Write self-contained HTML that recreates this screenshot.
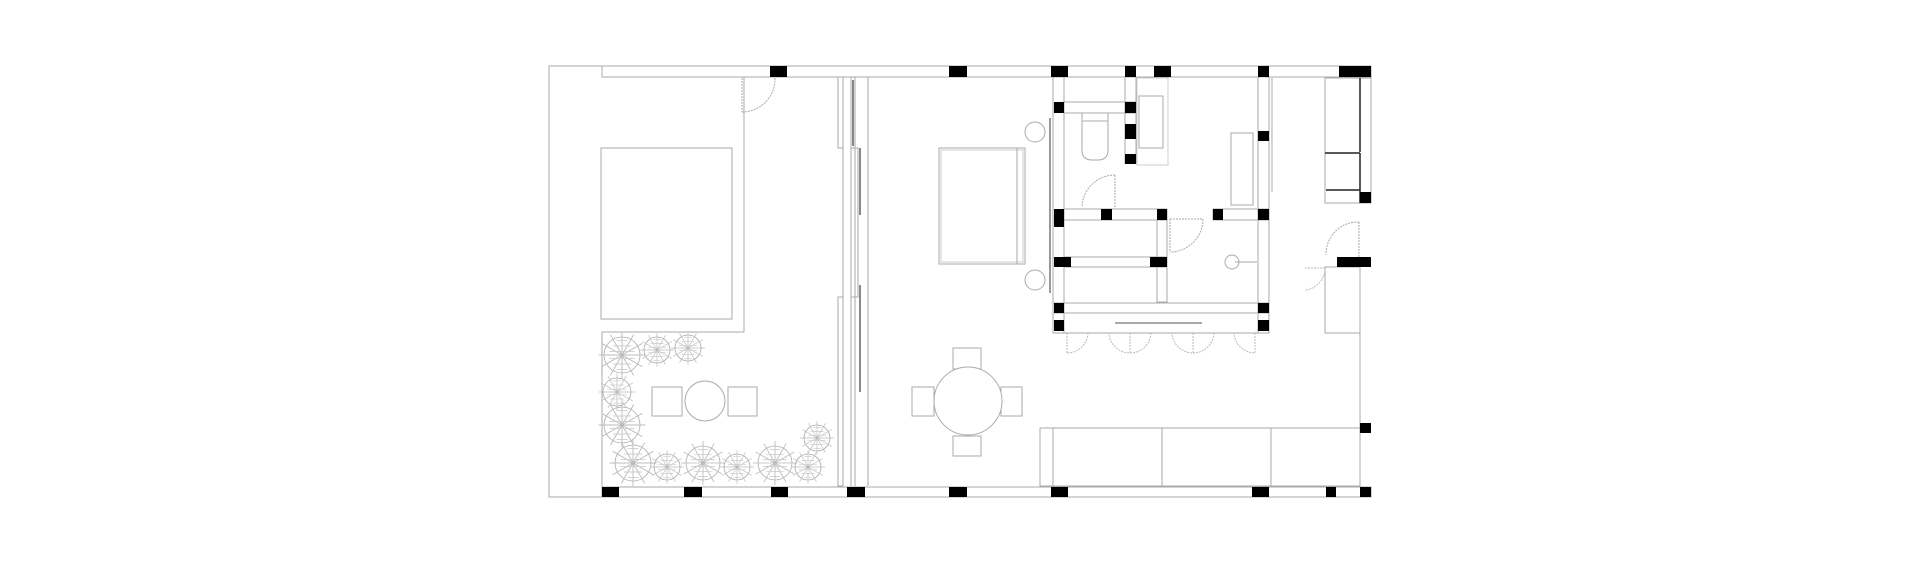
<!DOCTYPE html>
<html><head><meta charset="utf-8"><style>
html,body{margin:0;padding:0;background:#fff}
svg{display:block}
</style></head><body>
<svg width="1920" height="563" viewBox="0 0 1920 563" xmlns="http://www.w3.org/2000/svg">
<defs>
<g id="tree">
<circle cx="0" cy="0" r="10" fill="none" stroke="#aaa" stroke-width="0.8" vector-effect="non-scaling-stroke"/>
<g stroke="#bbb" stroke-width="0.5" vector-effect="non-scaling-stroke">
<path d="M0 0L0 -13M0 0L6.5 -11.3M0 0L11.3 -6.5M0 0L13 0M0 0L11.3 6.5M0 0L6.5 11.3M0 0L0 13M0 0L-6.5 11.3M0 0L-11.3 6.5M0 0L-13 0M0 0L-11.3 -6.5M0 0L-6.5 -11.3"/>
<path d="M-3 -8L3 -8M-5 -5L5 -5M-7 -2L7 -2M-7 2L7 2M-5 5L5 5M-3 8L3 8" stroke="#ccc"/>
</g>
</g>
</defs>
<g fill="none" stroke="#aaa" stroke-width="1">
<path d="M602 66H549V497H602"/>
<rect x="602" y="66" width="769" height="11" />
<rect x="602" y="487" width="769" height="10" />
<path d="M744 77V332H602V487"/>
<rect x="601" y="148" width="131" height="171"/>
<path d="M742 78V112M742 112A33 33 0 0 0 775 78" stroke-dasharray="2 1"/>
<path d="M838 77V148H843V297H838V486H843"/>
<path d="M843 77V486"/>
<path d="M851 77V486M855 77V486M868 77V486"/>
<path d="M851 148H858V297H851" />
<path d="M860 148V215M860 285V392" stroke="#888" stroke-width="2"/>
<path d="M853 80V146" stroke="#888" stroke-width="2"/>
<rect x="652" y="387" width="30" height="29"/>
<circle cx="705" cy="401" r="20"/>
<rect x="728" y="387" width="29" height="29"/>
<rect x="939" y="148" width="86" height="116"/>
<rect x="941" y="150" width="82" height="112" stroke="#ccc"/>
<path d="M1017 148V264"/>
<circle cx="1035" cy="132" r="10"/>
<circle cx="1035" cy="280" r="10"/>
<path d="M1050 118V293" stroke="#999" stroke-width="2"/>
<rect x="953" y="348" width="28" height="21"/>
<rect x="953" y="436" width="28" height="20"/>
<rect x="912" y="387" width="22" height="29"/>
<rect x="1001" y="387" width="21" height="29"/>
<circle cx="968" cy="401" r="34" fill="#fff"/>
<rect x="1053" y="77" width="11" height="256"/>
<rect x="1258" y="77" width="11" height="256"/>
<rect x="1064" y="102" width="72" height="11"/>
<rect x="1125" y="77" width="11" height="86"/>
<rect x="1137" y="78" width="31" height="87" stroke="#ccc"/>
<rect x="1139" y="96" width="24" height="52"/>
<path d="M1082 113H1108V150Q1108 160 1098 160H1092Q1082 160 1082 150Z"/>
<path d="M1082 121H1108"/>
<rect x="1064" y="209" width="103" height="11"/>
<rect x="1064" y="257" width="103" height="10"/>
<rect x="1157" y="220" width="10" height="82"/>
<rect x="1213" y="209" width="56" height="11"/>
<rect x="1053" y="303" width="216" height="10"/>
<rect x="1064" y="313" width="194" height="20"/>
<path d="M1115 323H1202" stroke-width="2"/>
<rect x="1231" y="133" width="22" height="72"/>
<circle cx="1232" cy="262" r="7"/>
<path d="M1235 262H1257"/>
<path d="M1272 78V192"/>
<path d="M1115 175V207M1115 175A33 33 0 0 0 1082 207" stroke-dasharray="2 1"/>
<path d="M1170 219H1203M1170 219V252M1203 219A33 33 0 0 1 1170 252" stroke-dasharray="2 1"/>
<path d="M1067 333V353M1067 353A21 21 0 0 0 1088 333M1130 333V353A21 21 0 0 1 1109 333M1130 353A21 21 0 0 0 1151 333M1193 333V353A21 21 0 0 1 1172 333M1193 353A21 21 0 0 0 1214 333M1255 333V353A21 21 0 0 1 1234 333" stroke="#bbb" stroke-dasharray="2 1"/>
<rect x="1325" y="78" width="46" height="125"/>
<path d="M1360 78V152M1325 153H1360M1360 153V203M1326 190H1360" stroke="#222" stroke-width="1.5"/>
<rect x="1325" y="267" width="35" height="66"/>
<path d="M1360 267V487"/>
<path d="M1359 257V222M1359 222A32 32 0 0 0 1326 255" stroke-dasharray="2 1"/>
<path d="M1325 268A22 22 0 0 1 1305 290M1325 268H1305" stroke="#bbb" stroke-dasharray="2 1"/>
<rect x="1040" y="428" width="320" height="58"/>
<path d="M1053 428V486M1162 428V486M1271 428V486"/>
</g>
<g>
<use href="#tree" transform="translate(622,355) scale(1.8)"/>
<use href="#tree" transform="translate(657,350) scale(1.3)"/>
<use href="#tree" transform="translate(688,348) scale(1.3)"/>
<use href="#tree" transform="translate(617,392) scale(1.4)"/>
<use href="#tree" transform="translate(622,425) scale(1.8)"/>
<use href="#tree" transform="translate(633,463) scale(1.8)"/>
<use href="#tree" transform="translate(667,467) scale(1.3)"/>
<use href="#tree" transform="translate(703,463) scale(1.7)"/>
<use href="#tree" transform="translate(737,467) scale(1.3)"/>
<use href="#tree" transform="translate(775,463) scale(1.7)"/>
<use href="#tree" transform="translate(808,467) scale(1.3)"/>
<use href="#tree" transform="translate(817,438) scale(1.3)"/>
</g>
<g fill="#000">
<rect x="770" y="66" width="17" height="11"/>
<rect x="949" y="66" width="18" height="11"/>
<rect x="1051" y="66" width="17" height="11"/>
<rect x="1125" y="66" width="11" height="11"/>
<rect x="1154" y="66" width="17" height="11"/>
<rect x="1258" y="66" width="11" height="11"/>
<rect x="1339" y="66" width="32" height="11"/>
<rect x="602" y="487" width="17" height="10"/>
<rect x="684" y="487" width="18" height="10"/>
<rect x="771" y="487" width="17" height="10"/>
<rect x="847" y="487" width="18" height="10"/>
<rect x="949" y="487" width="18" height="10"/>
<rect x="1051" y="487" width="17" height="10"/>
<rect x="1252" y="487" width="17" height="10"/>
<rect x="1326" y="487" width="10" height="10"/>
<rect x="1360" y="487" width="11" height="10"/>
<rect x="1054" y="102" width="10" height="11"/>
<rect x="1125" y="102" width="11" height="11"/>
<rect x="1125" y="124" width="11" height="15"/>
<rect x="1125" y="154" width="11" height="10"/>
<rect x="1054" y="209" width="10" height="18"/>
<rect x="1054" y="257" width="17" height="10"/>
<rect x="1054" y="303" width="10" height="10"/>
<rect x="1054" y="320" width="10" height="11"/>
<rect x="1101" y="209" width="11" height="11"/>
<rect x="1157" y="209" width="10" height="11"/>
<rect x="1150" y="257" width="17" height="10"/>
<rect x="1213" y="209" width="10" height="11"/>
<rect x="1258" y="131" width="11" height="10"/>
<rect x="1258" y="209" width="11" height="11"/>
<rect x="1258" y="303" width="11" height="10"/>
<rect x="1258" y="320" width="11" height="11"/>
<rect x="1360" y="192" width="11" height="11"/>
<rect x="1337" y="257" width="34" height="10"/>
<rect x="1360" y="423" width="11" height="10"/>
</g>
</svg>
</body></html>
